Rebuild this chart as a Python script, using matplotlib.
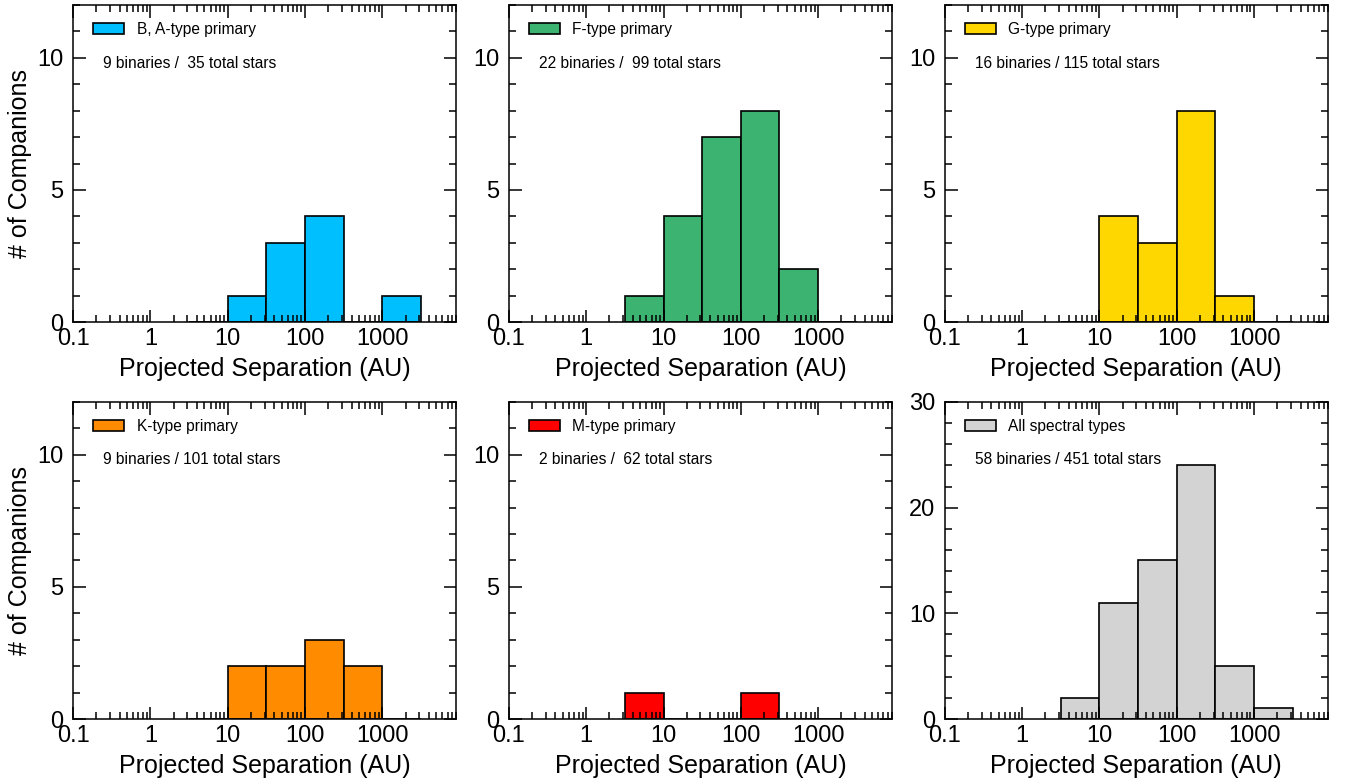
import numpy as np
import matplotlib
matplotlib.use("Agg")
import matplotlib.pyplot as plt
from matplotlib.ticker import FixedLocator, LogLocator, MultipleLocator, NullFormatter
from matplotlib.patches import Patch

plt.rcParams['font.family'] = ['Liberation Sans', 'DejaVu Sans']

# half-decade bins in projected separation (AU)
bin_edges = np.logspace(0.5, 3.5, 7)   # 3.16 ... 3162
bin_centers = np.sqrt(bin_edges[:-1] * bin_edges[1:])

labels = ["B, A-type primary", "F-type primary", "G-type primary",
          "K-type primary", "M-type primary", "All spectral types"]
colors = ["#00BFFF", "#3CB371", "#FFD700", "#FF8C00", "#FF0000", "#D3D3D3"]
notes = ["9 binaries /  35 total stars", "22 binaries /  99 total stars",
         "16 binaries / 115 total stars", "9 binaries / 101 total stars",
         "2 binaries /  62 total stars", "58 binaries / 451 total stars"]

counts_BA = [0, 1, 3, 4, 0, 1]
counts_F = [1, 4, 7, 8, 2, 0]
counts_G = [0, 4, 3, 8, 1, 0]
counts_K = [0, 2, 2, 3, 2, 0]
counts_M = [1, 0, 0, 1, 0, 0]
counts_all = [2, 11, 15, 24, 5, 1]
all_counts = [counts_BA, counts_F, counts_G, counts_K, counts_M, counts_all]

x_ticks = [0.1, 1, 10, 100, 1000]
x_ticklabels = ["0.1", "1", "10", "100", "1000"]

fig, axes = plt.subplots(2, 3, figsize=(13.48, 7.84), dpi=100)
fig.subplots_adjust(left=0.0542, right=0.985, top=0.9936, bottom=0.0829,
                    wspace=0.138, hspace=0.252)

for i, ax in enumerate(axes.flat):
    ax.hist(bin_centers, bins=bin_edges, weights=all_counts[i],
            color=colors[i], edgecolor='black', linewidth=1.2)
    ax.set_xscale('log')
    ax.set_xlim(0.1, 9000)
    if i == 5:
        ax.set_ylim(0, 30)
        ax.yaxis.set_major_locator(MultipleLocator(10))
        ax.yaxis.set_minor_locator(MultipleLocator(2))
    else:
        ax.set_ylim(0, 12)
        ax.yaxis.set_major_locator(FixedLocator([0, 5, 10]))
        ax.yaxis.set_minor_locator(MultipleLocator(1))
    ax.xaxis.set_major_locator(FixedLocator(x_ticks))
    ax.set_xticklabels(x_ticklabels)
    ax.xaxis.set_minor_locator(LogLocator(base=10, subs=np.arange(2, 10), numticks=20))
    ax.xaxis.set_minor_formatter(NullFormatter())
    ax.tick_params(which='both', direction='in', top=True, right=True,
                   width=1.1, labelsize=17)
    ax.tick_params(which='major', length=9)
    ax.tick_params(which='minor', length=5)
    ax.tick_params(axis='x', pad=4)
    ax.tick_params(axis='y', pad=7)
    for sp in ax.spines.values():
        sp.set_linewidth(1.1)
    ax.set_xlabel("Projected Separation (AU)", fontsize=18, labelpad=5)
    if i % 3 == 0:
        ax.set_ylabel("# of Companions", fontsize=18)
        ax.yaxis.set_label_coords(-0.108, 0.5)

    handle = Patch(facecolor=colors[i], edgecolor='black', linewidth=1.2)
    ax.legend([handle], [labels[i]], loc='center left', frameon=False,
              fontsize=11.2, handlelength=2.0, handleheight=0.7,
              handletextpad=0.8, borderpad=0, borderaxespad=0,
              bbox_to_anchor=(0.052, 0.924))
    ax.text(0.078, 0.817, notes[i], transform=ax.transAxes,
            fontsize=11.2, ha='left', va='center')

fig.savefig("out.png", dpi=100)
